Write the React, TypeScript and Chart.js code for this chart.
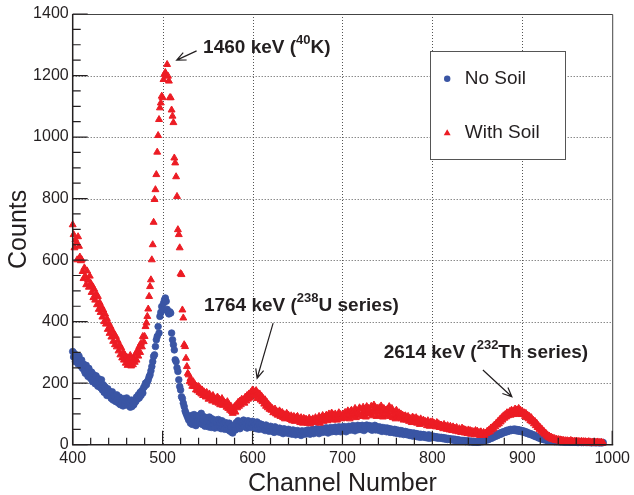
import React, { useEffect, useRef } from 'react';
import { Chart, registerables } from 'chart.js';

Chart.register(...registerables);

// ---------------- data ----------------
const FIRST_CHANNEL = 400;

// "No Soil" counts, one value per channel, 400 .. 990
const noSoilCounts: number[] = [
  303, 285, 296, 270, 290, 276, 262, 288, 268, 255,
  275, 248, 262, 240, 232, 258, 238, 222, 248, 230,
  215, 236, 205, 228, 212, 198, 224, 205, 190, 214,
  200, 185, 211, 178, 195, 170, 188, 176, 160, 182,
  176, 158, 168, 150, 172, 145, 160, 155, 140, 162,
  148, 135, 155, 130, 146, 138, 126, 150, 134, 142,
  152, 128, 140, 135, 122, 145, 124, 138, 130, 146,
  140, 155, 148, 162, 152, 170, 160, 176, 168, 186,
  190, 200, 195, 205, 211, 221, 227, 240, 254, 270,
  287, 292, 319, 341, 352, 384, 363, 417, 430, 449,
  438, 460, 470, 477, 466, 440, 430, 425, 432, 428,
  363, 341, 325, 308, 276, 270, 250, 238, 211, 189,
  178, 156, 150, 135, 124, 110, 102, 95, 88, 80,
  88, 70, 95, 66, 84, 98, 72, 62, 90, 78,
  95, 70, 85, 102, 66, 80, 91, 60, 88, 74,
  82, 58, 90, 70, 56, 84, 66, 78, 54, 80,
  74, 56, 82, 62, 70, 52, 78, 58, 68, 50,
  72, 54, 64, 48, 70, 44, 58, 40, 38, 56,
  64, 48, 72, 55, 78, 60, 52, 74, 62, 70,
  80, 58, 72, 66, 54, 78, 62, 74, 56, 70,
  76, 58, 70, 64, 52, 74, 60, 50, 68, 56,
  66, 50, 62, 54, 46, 64, 52, 58, 44, 56,
  60, 44, 56, 50, 40, 58, 46, 52, 42, 50,
  54, 40, 50, 44, 36, 52, 42, 48, 38, 46,
  50, 36, 46, 40, 34, 48, 38, 44, 32, 42,
  46, 34, 42, 38, 30, 45, 36, 43, 34, 44,
  46, 36, 48, 38, 34, 47, 40, 50, 36, 44,
  50, 40, 52, 42, 36, 49, 43, 52, 40, 46,
  52, 42, 55, 44, 38, 52, 46, 56, 42, 50,
  54, 44, 57, 42, 52, 46, 58, 48, 42, 55,
  58, 46, 59, 48, 42, 56, 50, 60, 47, 58,
  60, 48, 62, 50, 45, 58, 52, 63, 49, 60,
  61, 49, 63, 52, 46, 60, 51, 64, 53, 60,
  62, 50, 60, 47, 59, 52, 63, 48, 58, 50,
  58, 46, 57, 49, 43, 56, 48, 46, 54, 42,
  54, 43, 52, 40, 51, 42, 49, 39, 50, 38,
  48, 37, 47, 40, 35, 46, 37, 44, 33, 42,
  43, 33, 41, 32, 40, 30, 39, 31, 28, 38,
  37, 28, 36, 26, 35, 27, 24, 34, 25, 32,
  33, 24, 31, 23, 30, 22, 32, 21, 29, 23,
  28, 24, 27, 23, 26, 22, 25, 21, 24, 22,
  24, 20, 23, 19, 22, 18, 21, 17, 20, 18,
  19, 16, 18, 15, 18, 14, 17, 13, 16, 14,
  15, 12, 14, 11, 14, 12, 13, 10, 13, 11,
  12, 9, 12, 10, 11, 8, 11, 9, 10, 8,
  10, 8, 11, 9, 10, 12, 10, 14, 12, 16,
  15, 18, 16, 21, 19, 23, 21, 26, 24, 29,
  27, 32, 29, 35, 32, 37, 34, 40, 37, 42,
  40, 44, 41, 47, 43, 48, 45, 50, 46, 49,
  47, 51, 46, 50, 45, 49, 44, 48, 43, 46,
  42, 45, 40, 43, 38, 41, 36, 38, 34, 36,
  32, 34, 30, 31, 27, 29, 25, 26, 22, 24,
  20, 22, 18, 20, 16, 18, 15, 16, 13, 15,
  12, 14, 11, 13, 11, 12, 10, 12, 10, 11,
  10, 11, 9, 11, 9, 10, 9, 10, 8, 10,
  9, 10, 8, 10, 8, 9, 8, 9, 8, 9,
  8, 9, 7, 9, 8, 8, 7, 9, 7, 8,
  8, 7, 9, 7, 8, 7, 8, 6, 8, 7,
  7, 8, 6, 8, 7, 7, 6, 8, 6, 7,
  7,
];

// "With Soil" counts, one value per channel, 400 .. 990
const withSoilCounts: number[] = [
  715, 683, 640, 667, 657, 601, 676, 645, 610, 598,
  601, 563, 540, 575, 548, 520, 565, 535, 512, 548,
  525, 495, 515, 478, 505, 470, 490, 455, 482, 440,
  462, 430, 449, 415, 438, 400, 425, 392, 410, 375,
  395, 362, 384, 350, 372, 336, 360, 325, 352, 318,
  338, 305, 325, 292, 315, 282, 300, 275, 292, 265,
  285, 258, 278, 262, 290, 256, 272, 260, 282, 268,
  296, 275, 305, 288, 319, 300, 330, 318, 352, 335,
  352, 384, 396, 417, 441, 482, 514, 536, 601, 650,
  723, 797, 829, 878, 951, 1005, 1057, 1095, 1111, 1133,
  1128, 1187, 1204, 1210, 1200, 1236, 1198, 1182, 1128, 1128,
  1088, 1068, 1047, 932, 916, 871, 807, 699, 683, 640,
  556, 553, 438, 412, 325, 319, 281, 254, 232, 227,
  205, 215, 200, 190, 205, 189, 195, 178, 190, 175,
  189, 170, 182, 165, 178, 160, 172, 168, 155, 170,
  160, 148, 165, 150, 156, 142, 160, 145, 150, 138,
  146, 155, 135, 148, 130, 142, 150, 128, 140, 135,
  135, 122, 140, 118, 130, 112, 125, 108, 102, 118,
  124, 106, 130, 120, 138, 125, 142, 130, 148, 140,
  146, 135, 155, 142, 160, 148, 165, 152, 170, 160,
  178, 162, 172, 158, 176, 150, 167, 155, 165, 145,
  158, 140, 150, 132, 146, 125, 138, 120, 130, 115,
  124, 112, 118, 104, 110, 116, 100, 108, 96, 104,
  110, 92, 100, 105, 88, 98, 84, 95, 102, 86,
  96, 90, 82, 94, 78, 88, 92, 76, 84, 90,
  92, 78, 84, 72, 88, 80, 70, 86, 76, 82,
  82, 70, 78, 86, 68, 80, 74, 84, 72, 78,
  88, 74, 82, 78, 92, 70, 86, 80, 95, 76,
  90, 82, 96, 78, 92, 100, 84, 88, 103, 80,
  97, 86, 100, 92, 80, 96, 104, 88, 98, 84,
  92, 100, 86, 105, 94, 88, 110, 98, 84, 108,
  112, 92, 106, 100, 118, 88, 110, 104, 96, 120,
  116, 98, 92, 122, 106, 114, 90, 124, 102, 118,
  112, 100, 125, 94, 110, 129, 104, 120, 92, 118,
  108, 120, 96, 126, 110, 90, 118, 104, 112, 94,
  116, 100, 124, 92, 110, 118, 88, 106, 98, 84,
  112, 96, 88, 104, 92, 100, 84, 96, 80, 92,
  94, 80, 88, 92, 76, 86, 82, 72, 90, 78,
  85, 74, 88, 70, 82, 78, 66, 84, 72, 76,
  80, 68, 76, 72, 62, 78, 70, 60, 74, 66,
  75, 62, 70, 66, 58, 72, 60, 68, 56, 64,
  64, 58, 52, 66, 56, 60, 50, 62, 54, 48,
  60, 52, 46, 58, 50, 54, 44, 56, 48, 42,
  52, 46, 40, 54, 44, 50, 38, 48, 42, 36,
  48, 40, 46, 34, 44, 38, 42, 32, 46, 36,
  44, 34, 40, 30, 42, 36, 32, 40, 30, 38,
  36, 44, 40, 48, 42, 54, 48, 58, 52, 64,
  58, 70, 64, 76, 68, 82, 74, 88, 80, 94,
  86, 98, 90, 104, 94, 100, 108, 96, 112, 102,
  110, 98, 116, 104, 113, 100, 118, 106, 112, 98,
  108, 100, 104, 92, 102, 88, 96, 84, 92, 78,
  88, 74, 80, 68, 76, 62, 70, 56, 62, 50,
  56, 44, 50, 38, 44, 34, 38, 28, 32, 24,
  28, 21, 25, 18, 22, 16, 20, 14, 18, 13,
  17, 12, 16, 10, 15, 11, 14, 9, 13, 10,
  13, 8, 12, 9, 14, 8, 12, 7, 11, 9,
  12, 8, 11, 7, 10, 8, 11, 6, 10, 8,
  10, 6, 9, 7, 10, 5, 9, 6, 8, 7,
  9, 5, 8, 6, 9, 5, 7, 6, 8, 5,
  6,
];

const channels: number[] = noSoilCounts.map((_, i) => FIRST_CHANNEL + i);

const seriesLabels = ['No Soil', 'With Soil'];
const xAxisTitle = 'Channel Number';
const yAxisTitle = 'Counts';
const xTickValues = [400, 500, 600, 700, 800, 900, 1000];
const yTickValues = [0, 200, 400, 600, 800, 1000, 1200, 1400];

// peak annotations (text parts)
const peakTexts = [
  { pre: '1460 keV (', sup: '40', post: 'K)' },
  { pre: '1764 keV (', sup: '238', post: 'U series)' },
  { pre: '2614 keV (', sup: '232', post: 'Th series)' },
];

// ---------------- layout / style ----------------
const FONT = '"Liberation Sans", Arial, Helvetica, sans-serif';
const INK = '#231f20';
const BLUE = '#3a55a4';
const RED = '#ec1c24';

// annotation anchors in data coordinates [channel, counts]
const peakAnchors = [
  { text: [545, 1272], from: [537.8, 1280], to: [515.6, 1250] },
  { text: [545.9, 433], from: [622.9, 395], to: [605.1, 216] },
  { text: [745.9, 281], from: [856.2, 243], to: [888.4, 156] },
];
// legend box in data coordinates
const legendBox = { x0: 797.4, x1: 947.8, y0: 1279.7, y1: 929.3 };

function drawArrow(ctx: CanvasRenderingContext2D, x1: number, y1: number, x2: number, y2: number) {
  const ang = Math.atan2(y2 - y1, x2 - x1);
  const len = 10;
  const spread = 0.42;
  ctx.beginPath();
  ctx.moveTo(x1, y1);
  ctx.lineTo(x2, y2);
  ctx.moveTo(x2 - len * Math.cos(ang - spread), y2 - len * Math.sin(ang - spread));
  ctx.lineTo(x2, y2);
  ctx.lineTo(x2 - len * Math.cos(ang + spread), y2 - len * Math.sin(ang + spread));
  ctx.stroke();
}

function drawTriangle(ctx: CanvasRenderingContext2D, x: number, y: number, r: number) {
  ctx.beginPath();
  for (let k = 0; k < 3; k++) {
    const a = (k * 2 * Math.PI) / 3;
    const px = x + Math.sin(a) * r;
    const py = y - Math.cos(a) * r;
    if (k === 0) ctx.moveTo(px, py);
    else ctx.lineTo(px, py);
  }
  ctx.closePath();
  ctx.fill();
}

const decorPlugin = {
  id: 'spectrumDecor',
  beforeDatasetsDraw(chart: any) {
    const { ctx, chartArea: a, scales } = chart;
    const xs = scales.x;
    const ys = scales.y;
    ctx.save();
    ctx.strokeStyle = '#555555';
    ctx.lineWidth = 1;
    ctx.setLineDash([1, 2]);
    xTickValues.slice(1, -1).forEach((v) => {
      const px = Math.round(xs.getPixelForValue(v)) + 0.5;
      ctx.beginPath();
      ctx.moveTo(px, a.top);
      ctx.lineTo(px, a.bottom);
      ctx.stroke();
    });
    yTickValues.slice(1, -1).forEach((v) => {
      const py = Math.round(ys.getPixelForValue(v)) + 0.5;
      ctx.beginPath();
      ctx.moveTo(a.left, py);
      ctx.lineTo(a.right, py);
      ctx.stroke();
    });
    ctx.restore();
  },
  afterDatasetsDraw(chart: any) {
    const { ctx, chartArea: a, scales } = chart;
    const xs = scales.x;
    const ys = scales.y;
    ctx.save();
    // frame
    ctx.strokeStyle = '#444444';
    ctx.lineWidth = 1;
    ctx.beginPath();
    ctx.moveTo(a.left, a.top + 0.5);
    ctx.lineTo(a.right + 0.5, a.top + 0.5);
    ctx.lineTo(a.right + 0.5, a.bottom);
    ctx.stroke();
    ctx.strokeStyle = INK;
    ctx.lineWidth = 1.5;
    ctx.beginPath();
    ctx.moveTo(a.left, a.top);
    ctx.lineTo(a.left, a.bottom);
    ctx.lineTo(a.right + 1, a.bottom);
    ctx.stroke();
    // ticks (inside)
    ctx.lineWidth = 1.2;
    ctx.beginPath();
    for (let v = 0; v <= 1400; v += 50) {
      const py = ys.getPixelForValue(v);
      const len = v % 200 === 0 ? 15 : 8;
      ctx.moveTo(a.left, py);
      ctx.lineTo(a.left + len, py);
    }
    for (let v = 400; v <= 1000; v += 20) {
      const px = xs.getPixelForValue(v);
      const len = v % 100 === 0 ? 14 : 7;
      ctx.moveTo(px, a.bottom);
      ctx.lineTo(px, a.bottom - len);
    }
    ctx.stroke();

    // annotations
    ctx.fillStyle = INK;
    ctx.strokeStyle = INK;
    ctx.lineWidth = 1.2;
    ctx.textBaseline = 'alphabetic';
    ctx.textAlign = 'left';
    peakTexts.forEach((t, i) => {
      const an = peakAnchors[i];
      let px = xs.getPixelForValue(an.text[0]);
      const py = ys.getPixelForValue(an.text[1]);
      ctx.font = `bold 19px ${FONT}`;
      ctx.fillText(t.pre, px, py);
      px += ctx.measureText(t.pre).width;
      ctx.font = `bold 13px ${FONT}`;
      ctx.fillText(t.sup, px, py - 9);
      px += ctx.measureText(t.sup).width;
      ctx.font = `bold 19px ${FONT}`;
      ctx.fillText(t.post, px, py);
      drawArrow(
        ctx,
        xs.getPixelForValue(an.from[0]),
        ys.getPixelForValue(an.from[1]),
        xs.getPixelForValue(an.to[0]),
        ys.getPixelForValue(an.to[1])
      );
    });

    // legend
    const bx0 = Math.round(xs.getPixelForValue(legendBox.x0)) + 0.5;
    const bx1 = Math.round(xs.getPixelForValue(legendBox.x1)) + 0.5;
    const by0 = Math.round(ys.getPixelForValue(legendBox.y0)) + 0.5;
    const by1 = Math.round(ys.getPixelForValue(legendBox.y1)) + 0.5;
    ctx.fillStyle = '#ffffff';
    ctx.fillRect(bx0, by0, bx1 - bx0, by1 - by0);
    ctx.strokeStyle = '#555555';
    ctx.lineWidth = 1;
    ctx.strokeRect(bx0, by0, bx1 - bx0, by1 - by0);
    const rows = [by0 + 27.3, by0 + 81.3];
    const mx = bx0 + 16.7;
    ctx.fillStyle = BLUE;
    ctx.beginPath();
    ctx.arc(mx, rows[0], 3.2, 0, Math.PI * 2);
    ctx.fill();
    ctx.fillStyle = RED;
    drawTriangle(ctx, mx, rows[1] + 0.5, 4);
    ctx.fillStyle = INK;
    ctx.font = `19px ${FONT}`;
    ctx.textBaseline = 'middle';
    ctx.fillText(seriesLabels[0], bx0 + 34.3, rows[0]);
    ctx.fillText(seriesLabels[1], bx0 + 34.3, rows[1]);
    ctx.restore();
  },
};

export default function App() {
  const canvasRef = useRef<HTMLCanvasElement | null>(null);

  useEffect(() => {
    document.body.style.margin = '0';
    const canvas = canvasRef.current;
    if (!canvas) return;
    const chart = new Chart(canvas, {
      type: 'scatter',
      data: {
        datasets: [
          {
            label: seriesLabels[0],
            data: channels.map((c, i) => ({ x: c, y: noSoilCounts[i] })),
            pointStyle: 'circle',
            pointRadius: 3.3,
            pointBorderWidth: 0.8,
            backgroundColor: BLUE,
            borderColor: BLUE,
            showLine: false,
            order: 1,
            clip: false as any,
          },
          {
            label: seriesLabels[1],
            data: channels.map((c, i) => ({ x: c, y: withSoilCounts[i] })),
            pointStyle: 'triangle',
            pointRadius: 4,
            pointBorderWidth: 1,
            backgroundColor: RED,
            borderColor: RED,
            showLine: false,
            order: 0,
            clip: false as any,
          },
        ],
      },
      options: {
        responsive: false,
        animation: false,
        devicePixelRatio: 1,
        events: [],
        layout: { padding: { top: 14, right: 21.5, left: 0, bottom: 0 } },
        plugins: { legend: { display: false }, tooltip: { enabled: false } },
        scales: {
          x: {
            type: 'linear',
            min: 400,
            max: 1000,
            afterFit: (s: any) => {
              s.height = 50.3;
            },
            afterBuildTicks: (s: any) => {
              s.ticks = xTickValues.map((v) => ({ value: v }));
            },
            ticks: {
              autoSkip: false,
              maxRotation: 0,
              padding: 4,
              color: INK,
              font: { family: FONT, size: 16 },
              callback: (v: any) => String(v),
            },
            grid: { display: false, drawTicks: false },
            border: { display: false },
            title: {
              display: true,
              text: xAxisTitle,
              color: INK,
              font: { family: FONT, size: 25, lineHeight: 0.84 },
              padding: { top: 0, bottom: 0 },
            },
          },
          y: {
            type: 'linear',
            min: 0,
            max: 1400,
            afterFit: (s: any) => {
              s.width = 72.7;
            },
            afterBuildTicks: (s: any) => {
              s.ticks = yTickValues.map((v) => ({ value: v }));
            },
            ticks: {
              autoSkip: false,
              padding: 4,
              color: INK,
              font: { family: FONT, size: 16 },
              callback: (v: any) => String(v),
            },
            grid: { display: false, drawTicks: false },
            border: { display: false },
            title: {
              display: true,
              text: yAxisTitle,
              color: INK,
              font: { family: FONT, size: 25, lineHeight: 1.2 },
              padding: { top: 4.5, bottom: 0 },
            },
          },
        },
      },
      plugins: [decorPlugin],
    });
    return () => chart.destroy();
  }, []);

  return (
    <div style={{ position: 'absolute', left: 0, top: 0, width: 634, height: 495 }}>
      <canvas ref={canvasRef} width={634} height={495} style={{ display: 'block', width: 634, height: 495 }} />
    </div>
  );
}
